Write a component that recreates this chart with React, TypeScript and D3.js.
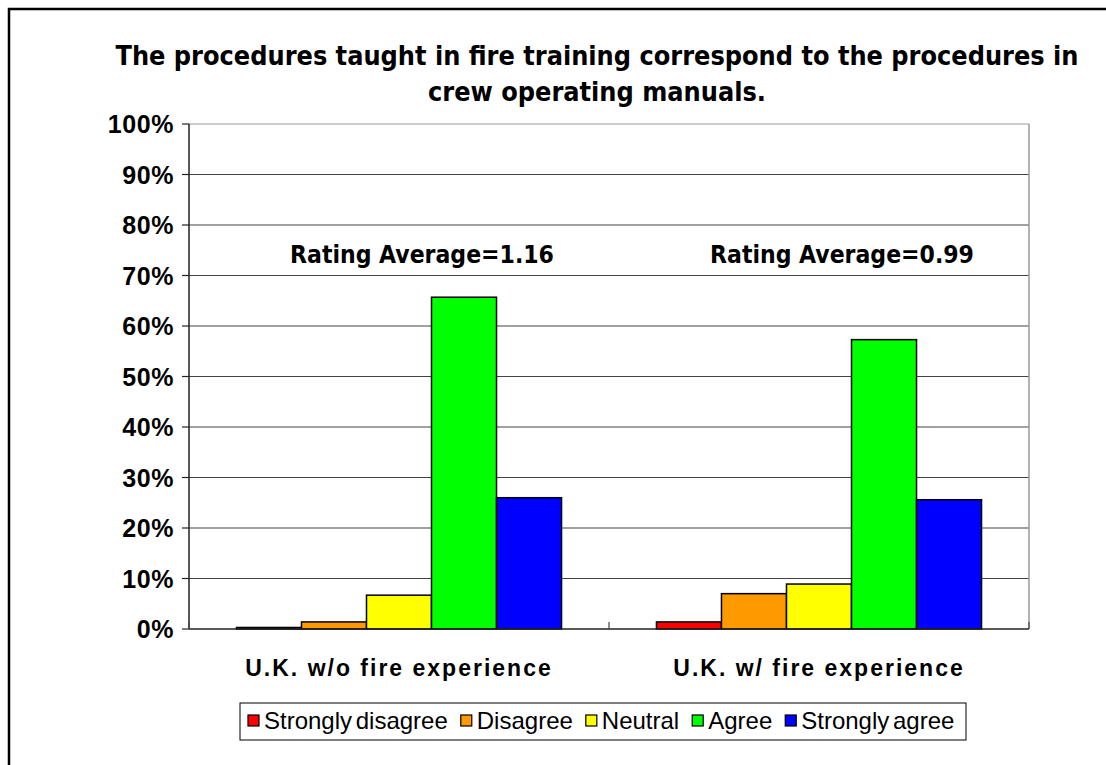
import React, { useEffect, useRef } from "react";
import * as d3 from "d3";

const categories = ["U.K. w/o fire experience", "U.K. w/ fire experience"];
const responses = ["Strongly disagree", "Disagree", "Neutral", "Agree", "Strongly agree"];
const colors = ["#ff0000", "#ff9900", "#ffff00", "#00ff00", "#0000ff"];
const values = [
  [0.3, 1.4, 6.7, 65.7, 26.0],
  [1.4, 7.0, 8.9, 57.3, 25.6],
];
const ratingLabels = ["Rating Average=1.16", "Rating Average=0.99"];
const yTicks = [0, 10, 20, 30, 40, 50, 60, 70, 80, 90, 100];

const App = () => {
  const ref = useRef<SVGSVGElement>(null);

  useEffect(() => {
    if (!ref.current) return;
    const svg = d3.select(ref.current);
    svg.selectAll("*").remove();

    const W = 1106;
    const H = 765;
    const plot = { left: 189, right: 1029, top: 124, bottom: 629 };

    // outer chart border (right/bottom fall outside the picture)
    svg.append("rect").attr("x", 9).attr("y", 9).attr("width", W + 20).attr("height", H + 20)
      .attr("fill", "#fff").attr("stroke", "#000").attr("stroke-width", 2.5);

    const x0 = d3.scaleBand().domain(categories).range([plot.left, plot.right]);
    const x1 = d3.scaleBand().domain(responses).range([0, x0.bandwidth()]).paddingOuter(0.73).paddingInner(0);
    const y = d3.scaleLinear().domain([0, 100]).range([plot.bottom, plot.top]);

    // title
    const title = svg.append("text").attr("text-anchor", "middle")
      .style("font-family", "'DejaVu Sans Condensed', 'DejaVu Sans', sans-serif").style("font-weight", "bold")
      .style("font-size", "26.8px");
    title.append("tspan").attr("x", 597).attr("y", 65).text("The procedures taught in fire training correspond to the procedures in");
    title.append("tspan").attr("x", 597).attr("y", 101).text("crew operating manuals.");

    // gridlines
    svg.append("g").selectAll("line").data(yTicks.slice(1)).join("line")
      .attr("x1", plot.left).attr("x2", plot.right)
      .attr("y1", (d) => y(d)).attr("y2", (d) => y(d))
      .attr("stroke", (d) => (d === 100 ? "#999" : "#444")).attr("stroke-width", 1.2);

    // right border of plot
    svg.append("line").attr("x1", plot.right).attr("x2", plot.right).attr("y1", plot.top).attr("y2", plot.bottom)
      .attr("stroke", "#999").attr("stroke-width", 1.5);

    // bars
    const g = svg.append("g");
    categories.forEach((c, i) => {
      g.append("g").selectAll("rect").data(values[i]).join("rect")
        .attr("x", (d, j) => x0(c)! + x1(responses[j])!)
        .attr("y", (d) => y(d))
        .attr("width", x1.bandwidth())
        .attr("height", (d) => plot.bottom - y(d))
        .attr("fill", (d, j) => colors[j])
        .attr("stroke", "#000").attr("stroke-width", 1.5);
    });

    // y axis
    svg.append("line").attr("x1", plot.left).attr("x2", plot.left).attr("y1", plot.top).attr("y2", plot.bottom)
      .attr("stroke", "#222").attr("stroke-width", 1.5);
    svg.append("g").selectAll("line").data(yTicks).join("line")
      .attr("x1", plot.left - 7).attr("x2", plot.left)
      .attr("y1", (d) => y(d)).attr("y2", (d) => y(d))
      .attr("stroke", "#222").attr("stroke-width", 1.2);
    svg.append("g").selectAll("text").data(yTicks).join("text")
      .attr("x", 174).attr("y", (d) => y(d) + 9)
      .attr("text-anchor", "end")
      .style("font-family", "'Liberation Sans', Arial, sans-serif").style("font-weight", "bold").style("font-size", "25px")
      .style("letter-spacing", "0.6px")
      .text((d) => `${d}%`);

    // x axis
    svg.append("line").attr("x1", plot.left).attr("x2", plot.right).attr("y1", plot.bottom).attr("y2", plot.bottom)
      .attr("stroke", "#222").attr("stroke-width", 1.5);
    svg.append("g").selectAll("line").data(d3.range(categories.length + 1)).join("line")
      .attr("x1", (d) => plot.left + d * x0.bandwidth()).attr("x2", (d) => plot.left + d * x0.bandwidth())
      .attr("y1", plot.bottom).attr("y2", plot.bottom - 7)
      .attr("stroke", "#444").attr("stroke-width", 1.2);
    svg.append("g").selectAll("text").data(categories).join("text")
      .attr("x", (d) => x0(d)! + x0.bandwidth() / 2).attr("y", 676)
      .attr("text-anchor", "middle")
      .style("font-family", "'Liberation Sans', Arial, sans-serif").style("font-weight", "bold").style("font-size", "23px")
      .style("letter-spacing", "2px")
      .text((d) => d);

    // rating averages
    svg.append("g").selectAll("text").data(ratingLabels).join("text")
      .attr("x", (d, i) => x0(categories[i])! + x0.bandwidth() / 2 + 23).attr("y", 263)
      .attr("text-anchor", "middle")
      .style("font-family", "'DejaVu Sans Condensed', 'DejaVu Sans', sans-serif").style("font-weight", "bold").style("font-size", "24.5px")
      .text((d) => d);

    // legend
    const lg = svg.append("g");
    lg.append("rect").attr("x", 240).attr("y", 703).attr("width", 726).attr("height", 37)
      .attr("fill", "#fff").attr("stroke", "#000").attr("stroke-width", 1);
    let lx = 248;
    responses.forEach((r, j) => {
      lg.append("rect").attr("x", lx).attr("y", 715).attr("width", 11).attr("height", 11)
        .attr("fill", colors[j]).attr("stroke", "#000").attr("stroke-width", 1.2);
      const t = lg.append("text").attr("x", lx + 16).attr("y", 729)
        .style("font-family", "'Liberation Sans', Arial, sans-serif").style("font-size", "24px")
        .style("word-spacing", "-3px")
        .text(r);
      const len = (t.node() as SVGTextElement).getComputedTextLength();
      lx = lx + 16 + len + 13;
    });
  }, []);

  return (
    <svg ref={ref} width={1106} height={765}
      style={{ display: "block", position: "absolute", left: 0, top: 0 }} />
  );
};

export default App;
